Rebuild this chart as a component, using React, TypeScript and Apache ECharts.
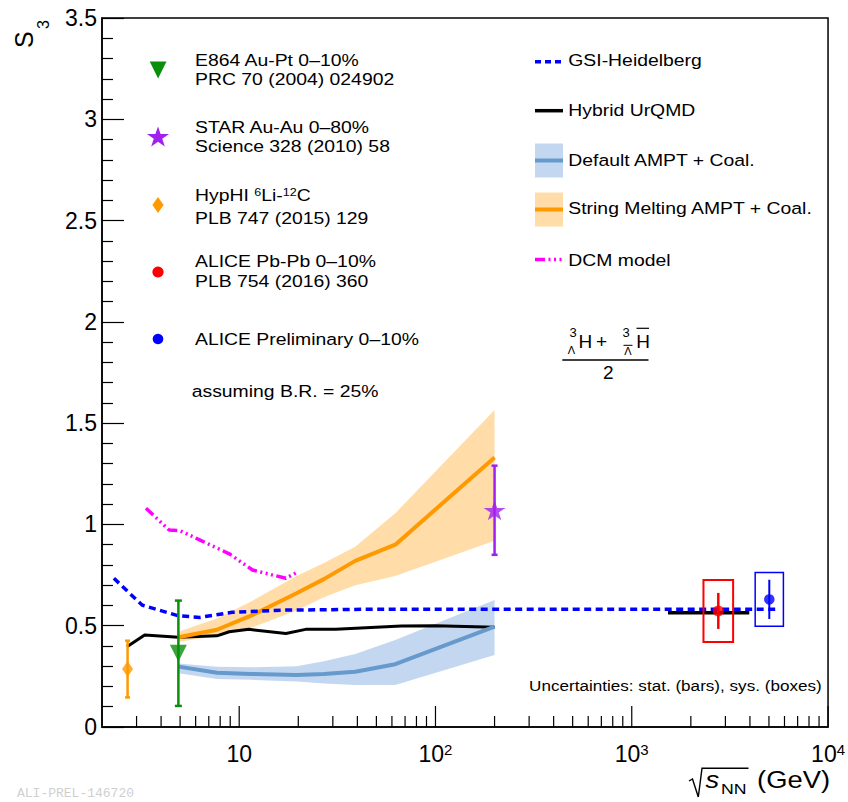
import React, { useEffect, useRef } from 'react';
import * as echarts from 'echarts';

const FONT = '"Liberation Sans", Arial, Helvetica, sans-serif';
const SX = 1.14;

// ---- axes ----
const xMin = 2;
const xMax = 10000;
const yMin = 0;
const yMax = 3.5;
const yInterval = 0.5;
const xMajorTicks = [10, 100, 1000, 10000];
const xMinorTicks = [3, 4, 5, 6, 7, 8, 9, 20, 30, 40, 50, 60, 70, 80, 90, 200, 300, 400, 500, 600, 700, 800, 900, 2000, 3000, 4000, 5000, 6000, 7000, 8000, 9000];

// ---- data points ----
const hyphiX = [2.7];
const hyphiY = [0.286];
const hyphiErr = [0.14];

const e864X = [4.9];
const e864Y = [0.364];
const e864Err = [0.26];

const starX = [200];
const starY = [1.07];
const starErr = [0.22];

const alicePbX = [2760];
const alicePbY = [0.573];
const alicePbStat = [0.089];
const alicePbSys = [0.153];

const alicePrelX = [5020];
const alicePrelY = [0.63];
const alicePrelStat = [0.097];
const alicePrelSys = [0.133];

// ---- models ----
const gsiX = [2.3, 3.2, 4.9, 6.3, 9.2, 17, 44, 200, 1000, 5500];
const gsiY = [0.734, 0.602, 0.549, 0.541, 0.566, 0.577, 0.581, 0.581, 0.581, 0.581];

const urqmdX = [2.68, 3.3, 4.9, 7.7, 8.9, 11.2, 17.3, 21.8, 31, 67, 100, 200];
const urqmdY = [0.396, 0.454, 0.443, 0.45, 0.47, 0.482, 0.462, 0.482, 0.482, 0.498, 0.5, 0.492];
const urqmdLhcX = [1530, 3970];
const urqmdLhcY = [0.564, 0.564];

const amptX = [4.9, 7.7, 11.5, 19.6, 27, 39, 62.4, 200];
const amptY = [0.298, 0.268, 0.262, 0.257, 0.262, 0.273, 0.31, 0.495];
const amptUp = [0.314, 0.298, 0.295, 0.3, 0.325, 0.36, 0.43, 0.627];
const amptLo = [0.265, 0.237, 0.233, 0.225, 0.215, 0.207, 0.207, 0.355];

const smX = [4.9, 7.7, 11.5, 19.6, 27, 39, 62.4, 200];
const smY = [0.443, 0.48, 0.55, 0.66, 0.73, 0.82, 0.9, 1.33];
const smUp = [0.47, 0.535, 0.62, 0.745, 0.81, 0.89, 1.055, 1.565];
const smLo = [0.42, 0.45, 0.49, 0.575, 0.64, 0.7, 0.745, 0.92];

const dcmX = [3.35, 4.4, 5.0, 6.4, 8.9, 11.7, 17.3, 19.4];
const dcmY = [1.08, 0.972, 0.969, 0.92, 0.855, 0.775, 0.734, 0.76];

// ---- colours ----
const C_GREEN = '#0a8f0a';
const C_PURPLE = '#a020f0';
const C_ORANGE = '#ff9900';
const C_RED = '#ff0000';
const C_BLUE = '#0000ff';
const C_STEEL = '#6699cc';
const C_MAGENTA = '#ff00ff';
const F_ORANGE = 'rgba(255,153,0,0.34)';
const F_STEEL = 'rgba(80,140,210,0.34)';
const SYS_FACTOR_PB = 1.19;
const SYS_FACTOR_PREL = 1.18;

function starPoints(cx: number, cy: number, R: number, sy = 1) {
  const pts: number[][] = [];
  for (let i = 0; i < 10; i++) {
    const r = i % 2 === 0 ? R : R * 0.382;
    const a = -Math.PI / 2 + (i * Math.PI) / 5;
    pts.push([cx + r * Math.cos(a), cy + r * Math.sin(a) * sy]);
  }
  return pts;
}
const STAR_PATH = 'path://' + starPoints(0, 0, 10).map((p, i) => (i === 0 ? 'M' : 'L') + p[0].toFixed(3) + ' ' + p[1].toFixed(3)).join(' ') + ' Z';

function pairs(xs: number[], ys: number[]) {
  return xs.map((x, i) => [x, ys[i]]);
}

function errorBarSeries(xs: number[], ys: number[], errs: number[], color: string, width: number, cap: number) {
  return {
    type: 'custom',
    z: 6,
    silent: true,
    data: xs.map((x, i) => [x, ys[i], errs[i]]),
    encode: { x: 0, y: 1 },
    renderItem: (params: any, api: any) => {
      const x = api.value(0);
      const y = api.value(1);
      const e = api.value(2);
      const t = api.coord([x, y + e]);
      const b = api.coord([x, y - e]);
      const st = { stroke: color, lineWidth: width };
      const children: any[] = [{ type: 'line', shape: { x1: t[0], y1: t[1], x2: b[0], y2: b[1] }, style: st }];
      if (cap > 0) {
        children.push({ type: 'line', shape: { x1: t[0] - cap, y1: t[1], x2: t[0] + cap, y2: t[1] }, style: st });
        children.push({ type: 'line', shape: { x1: b[0] - cap, y1: b[1], x2: b[0] + cap, y2: b[1] }, style: st });
      }
      return { type: 'group', children };
    },
  };
}

function sysBoxSeries(xs: number[], ys: number[], sys: number[], factor: number, color: string, width: number) {
  return {
    type: 'custom',
    z: 5,
    silent: true,
    data: xs.map((x, i) => [x, ys[i], sys[i]]),
    encode: { x: 0, y: 1 },
    renderItem: (params: any, api: any) => {
      const x = api.value(0);
      const y = api.value(1);
      const s = api.value(2);
      const tl = api.coord([x / factor, y + s]);
      const br = api.coord([x * factor, y - s]);
      return {
        type: 'rect',
        shape: { x: tl[0], y: tl[1], width: br[0] - tl[0], height: br[1] - tl[1] },
        style: { fill: 'none', stroke: color, lineWidth: width },
      };
    },
  };
}

function bandSeries(xs: number[], up: number[], lo: number[], fill: string) {
  return {
    type: 'custom',
    z: 1,
    silent: true,
    data: xs.map((x, i) => [x, up[i], lo[i]]),
    encode: { x: 0, y: 1 },
    renderItem: (params: any, api: any) => {
      if (params.dataIndex !== 0) return null;
      const pts: number[][] = [];
      for (let i = 0; i < xs.length; i++) pts.push(api.coord([xs[i], up[i]]));
      for (let i = xs.length - 1; i >= 0; i--) pts.push(api.coord([xs[i], lo[i]]));
      return { type: 'polygon', shape: { points: pts }, style: { fill, stroke: 'none' } };
    },
  };
}

function tickSeries() {
  const data = [...xMajorTicks.map((v) => [v, yMin, 21]), ...xMinorTicks.map((v) => [v, yMin, 11])];
  return {
    type: 'custom',
    z: 8,
    silent: true,
    data,
    encode: { x: 0, y: 1 },
    renderItem: (params: any, api: any) => {
      const p = api.coord([api.value(0), api.value(1)]);
      const len = api.value(2);
      return {
        type: 'line',
        shape: { x1: p[0], y1: p[1], x2: p[0], y2: p[1] - len },
        style: { stroke: '#000', lineWidth: 1.2 },
      };
    },
  };
}

function lineSeries(xs: number[], ys: number[], color: string, width: number, type: any, z = 3) {
  return {
    type: 'line',
    z,
    silent: true,
    data: pairs(xs, ys),
    showSymbol: false,
    symbol: 'none',
    lineStyle: { color, width, type, cap: 'butt', join: 'round' },
  };
}

function T(x: number, y: number, text: string, size = 17, extra: any = {}, sx = SX) {
  return {
    type: 'text',
    x,
    y,
    scaleX: sx,
    silent: true,
    style: {
      text,
      fontSize: size,
      fontFamily: FONT,
      fill: '#000',
      align: 'left',
      verticalAlign: 'middle',
      ...extra,
    },
  };
}

function L(x1: number, y1: number, x2: number, y2: number, stroke: string, lineWidth: number, lineDash?: any) {
  return {
    type: 'line',
    silent: true,
    shape: { x1, y1, x2, y2 },
    style: { stroke, lineWidth, lineDash },
  };
}

function buildGraphic() {
  const g: any[] = [];
  // y-axis title S_3
  g.push({
    type: 'group',
    x: 24,
    y: 48,
    rotation: Math.PI / 2,
    silent: true,
    children: [
      { type: 'text', x: 0, y: 0, style: { text: 'S', fontSize: 25, fontFamily: FONT, fill: '#000', align: 'left', verticalAlign: 'middle' } },
      { type: 'text', x: 19, y: 19.5, style: { text: '3', fontSize: 16, fontFamily: FONT, fill: '#000', align: 'left', verticalAlign: 'middle' } },
    ],
  });

  // left legend markers
  g.push({ type: 'polygon', silent: true, shape: { points: [[149.7, 61.5], [166.5, 61.5], [158.1, 78.5]] }, style: { fill: C_GREEN } });
  g.push({ type: 'polygon', silent: true, shape: { points: starPoints(158, 137.5, 11.6, 0.95) }, style: { fill: C_PURPLE } });
  g.push({ type: 'polygon', silent: true, shape: { points: [[158, 197], [163.6, 205], [158, 213], [152.4, 205]] }, style: { fill: C_ORANGE } });
  g.push({ type: 'circle', silent: true, shape: { cx: 158, cy: 272, r: 5.6 }, style: { fill: C_RED } });
  g.push({ type: 'circle', silent: true, shape: { cx: 158, cy: 339, r: 5.3 }, style: { fill: C_BLUE } });

  // left legend texts
  g.push(T(195, 60, 'E864 Au-Pt 0–10%'));
  g.push(T(195, 79.5, 'PRC 70 (2004) 024902'));
  g.push(T(195, 127, 'STAR Au-Au 0–80%'));
  g.push(T(195, 146.5, 'Science 328 (2010) 58'));
  g.push(
    T(195, 195, 'HypHI {sup|6}Li-{sup|12}C', 17, {
      rich: { sup: { fontSize: 11, fontFamily: FONT, fill: '#000', verticalAlign: 'top' } },
    })
  );
  g.push(T(195, 218.7, 'PLB 747 (2015) 129'));
  g.push(T(195, 261.7, 'ALICE Pb-Pb 0–10%'));
  g.push(T(195, 281, 'PLB 754 (2016) 360'));
  g.push(T(195, 339.7, 'ALICE Preliminary 0–10%'));
  g.push(T(191.7, 391.7, 'assuming B.R. = 25%'));

  // right legend samples
  g.push(L(535, 61.7, 562, 61.7, C_BLUE, 3.5, [6, 4]));
  g.push(L(535, 110.7, 563, 110.7, '#000', 3.5));
  g.push({ type: 'rect', silent: true, shape: { x: 535, y: 143.5, width: 28, height: 34 }, style: { fill: F_STEEL } });
  g.push(L(535, 160.5, 563, 160.5, C_STEEL, 4));
  g.push({ type: 'rect', silent: true, shape: { x: 535, y: 192.5, width: 28, height: 34 }, style: { fill: F_ORANGE } });
  g.push(L(535, 209.5, 563, 209.5, C_ORANGE, 4));
  g.push(L(535, 259.5, 564, 259.5, C_MAGENTA, 3.5, [10, 3.5, 2, 3.5, 2, 3.5, 2, 3.5]));

  // right legend texts
  g.push(T(568.3, 60.3, 'GSI-Heidelberg'));
  g.push(T(568.3, 110.3, 'Hybrid UrQMD'));
  g.push(T(568.3, 160.7, 'Default AMPT + Coal.'));
  g.push(T(568.3, 208.8, 'String Melting AMPT + Coal.'));
  g.push(T(568.3, 260, 'DCM model'));

  // formula (3ΛH + anti) / 2
  g.push(T(573, 332.5, '3', 13, { align: 'center' }, 1));
  g.push(T(571.5, 350, 'Λ', 11, { align: 'center' }, 1));
  g.push(T(578.5, 341, 'H', 19, {}, 1));
  g.push(T(601.5, 341, '+', 19, { align: 'center' }, 1));
  g.push(T(626, 332.5, '3', 13, { align: 'center' }, 1));
  g.push(T(628, 350.5, 'Λ', 11, { align: 'center' }, 1));
  g.push(L(623.5, 345.3, 632.5, 345.3, '#000', 1));
  g.push(T(636.2, 341, 'H', 19, {}, 1));
  g.push(L(636.5, 328.3, 649, 328.3, '#000', 1.2));
  g.push(L(562.3, 360, 648.5, 360, '#000', 1.5));
  g.push(T(608.3, 372.5, '2', 19, { align: 'center' }, 1));

  // uncertainties note
  g.push(T(821.7, 685, 'Uncertainties: stat. (bars), sys. (boxes)', 15, { align: 'right' }));

  // x-axis title  sqrt(s_NN) (GeV)
  g.push({
    type: 'polyline',
    silent: true,
    shape: { points: [[689, 781], [692.5, 779], [698.3, 797], [702, 768.3], [748.5, 768.3]] },
    style: { stroke: '#000', lineWidth: 1.4, fill: 'none' },
  });
  g.push(T(705.5, 780, 's', 24, { fontStyle: 'italic' }));
  g.push(T(721, 788.5, 'NN', 15.5));
  g.push(T(830, 780, '(GeV)', 24, { align: 'right' }));

  // watermark at the bottom edge (kept fully inside the picture)
  g.push({
    type: 'text',
    x: 17,
    y: 800,
    silent: true,
    style: { text: 'ALI-PREL-146720', fontSize: 13, fontFamily: '"Liberation Mono", "DejaVu Sans Mono", monospace', fill: '#cfcfcf', align: 'left', verticalAlign: 'bottom' },
  });
  return g;
}

function buildOption() {
  const axisLine = { show: true, onZero: false, lineStyle: { color: '#000', width: 1.5 } };
  return {
    animation: false,
    backgroundColor: '#ffffff',
    grid: { left: 102, right: 18, top: 18, bottom: 75, show: true, borderColor: '#000', borderWidth: 1.5, backgroundColor: 'transparent' },
    xAxis: {
      type: 'log',
      logBase: 10,
      min: xMin,
      max: xMax,
      axisLine,
      axisTick: { show: false },
      minorTick: { show: false },
      splitLine: { show: false },
      minorSplitLine: { show: false },
      axisLabel: {
        show: true,
        margin: 15,
        color: '#000',
        fontFamily: FONT,
        fontSize: 23,
        showMinLabel: true,
        showMaxLabel: true,
        hideOverlap: false,
        formatter: (v: number) => {
          const l = Math.log10(v);
          const e = Math.round(l);
          if (Math.abs(l - e) > 1e-6) return '';
          return e === 1 ? '10' : '10{sup|' + e + '}';
        },
        rich: { sup: { fontSize: 15, fontFamily: FONT, color: '#000', verticalAlign: 'top' } },
      },
    },
    yAxis: {
      type: 'value',
      min: yMin,
      max: yMax,
      interval: yInterval,
      axisLine,
      axisTick: { show: true, inside: true, length: 22, lineStyle: { color: '#000', width: 1.2 } },
      minorTick: { show: true, splitNumber: 5, length: 11, lineStyle: { color: '#000', width: 1.2 } },
      splitLine: { show: false },
      axisLabel: { margin: 5, color: '#000', fontFamily: FONT, fontSize: 23 },
    },
    series: [
      bandSeries(amptX, amptUp, amptLo, F_STEEL),
      bandSeries(smX, smUp, smLo, F_ORANGE),
      lineSeries(urqmdX, urqmdY, '#000', 3, 'solid', 2),
      lineSeries(urqmdLhcX, urqmdLhcY, '#000', 3.5, 'solid', 2),
      lineSeries(amptX, amptY, C_STEEL, 4, 'solid', 3),
      lineSeries(smX, smY, C_ORANGE, 4, 'solid', 3),
      lineSeries(gsiX, gsiY, C_BLUE, 3.5, [7, 4.5], 4),
      lineSeries(dcmX, dcmY, C_MAGENTA, 3.5, [10, 3.5, 2, 3.5, 2, 3.5, 2, 3.5], 4),
      tickSeries(),
      sysBoxSeries(alicePbX, alicePbY, alicePbSys, SYS_FACTOR_PB, C_RED, 2),
      sysBoxSeries(alicePrelX, alicePrelY, alicePrelSys, SYS_FACTOR_PREL, C_BLUE, 1.5),
      errorBarSeries(hyphiX, hyphiY, hyphiErr, C_ORANGE, 2.5, 2.5),
      errorBarSeries(e864X, e864Y, e864Err, C_GREEN, 2.5, 3.5),
      errorBarSeries(starX, starY, starErr, C_PURPLE, 2.5, 3),
      errorBarSeries(alicePbX, alicePbY, alicePbStat, C_RED, 2.5, 0),
      errorBarSeries(alicePrelX, alicePrelY, alicePrelStat, C_BLUE, 2, 0),
      { type: 'scatter', z: 7, silent: true, data: pairs(hyphiX, hyphiY), symbol: 'diamond', symbolSize: [11, 16], itemStyle: { color: C_ORANGE } },
      { type: 'scatter', z: 7, silent: true, data: pairs(e864X, e864Y), symbol: 'triangle', symbolRotate: 180, symbolSize: [17, 17], itemStyle: { color: C_GREEN } },
      { type: 'scatter', z: 7, silent: true, data: pairs(starX, starY), symbol: STAR_PATH, symbolSize: [22, 20], itemStyle: { color: C_PURPLE } },
      { type: 'scatter', z: 7, silent: true, data: pairs(alicePbX, alicePbY), symbol: 'circle', symbolSize: 11, itemStyle: { color: C_RED } },
      { type: 'scatter', z: 7, silent: true, data: pairs(alicePrelX, alicePrelY), symbol: 'circle', symbolSize: 10.5, itemStyle: { color: C_BLUE } },
    ],
    graphic: buildGraphic(),
  };
}

export default function App() {
  const ref = useRef<HTMLDivElement>(null);
  useEffect(() => {
    document.body.style.margin = '0';
    const chart = echarts.init(ref.current as HTMLDivElement, undefined, { renderer: 'svg' });
    chart.setOption(buildOption() as any);
    return () => {
      chart.dispose();
    };
  }, []);
  return <div ref={ref} style={{ width: 848, height: 802 }} />;
}
